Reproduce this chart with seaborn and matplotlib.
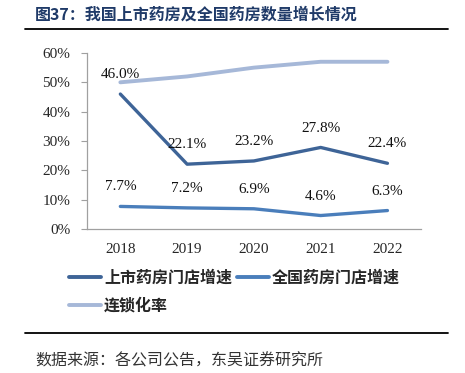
import pandas as pd
import matplotlib.pyplot as plt
import seaborn as sns
from matplotlib.lines import Line2D

# 数据
years = ['2018', '2019', '2020', '2021', '2022']
listed_growth = [46.0, 22.1, 23.2, 27.8, 22.4]      # 上市药房门店增速
national_growth = [7.7, 7.2, 6.9, 4.6, 6.3]         # 全国药房门店增速
chain_rate = [50.0, 52.0, 55.0, 57.0, 57.0]         # 连锁化率
series_names = ['上市药房门店增速', '全国药房门店增速', '连锁化率']
colors = ['#3E6497', '#4A7EBB', '#A6B8D8']

sns.set_style('white')
plt.rcParams['font.family'] = ['Noto Sans CJK SC', 'DejaVu Sans']
serif = 'Liberation Serif'

fig = plt.figure(figsize=(4.65, 3.73), dpi=100)
ax = fig.add_axes([0.187, 0.386, 0.718, 0.472])

x = list(range(len(years)))
for vals, name, c, lw in zip([listed_growth, national_growth, chain_rate],
                             series_names, colors, [2.4, 2.4, 2.8]):
    sns.lineplot(x=x, y=vals, ax=ax, color=c, linewidth=lw, label=name,
                 legend=False)

# 数据标签
for vals in [listed_growth, national_growth]:
    for i, v in enumerate(vals):
        ax.annotate(f'{v:.1f}%', (i, v), xytext=(0, 14), textcoords='offset points',
                    ha='center', va='center', fontsize=11, family=serif, color='#111111')

ax.set_xlim(-0.5, len(years) - 0.5)
ax.set_ylim(0, 60)
ax.set_yticks(range(0, 61, 10))
ax.set_yticklabels([f'{t}%' for t in range(0, 61, 10)], family=serif, fontsize=11)
ax.set_xticks(x)
ax.set_xticklabels(years, family=serif, fontsize=11)
ax.tick_params(axis='y', length=4, width=0.8, color='#A0A0A0', pad=8, left=True)
ax.tick_params(axis='x', length=0, pad=10)
for s in ['top', 'right']:
    ax.spines[s].set_visible(False)
for s in ['left', 'bottom']:
    ax.spines[s].set_color('#A0A0A0')
    ax.spines[s].set_linewidth(0.9)

# 图例（按列填充，所以调整顺序）
handles = [Line2D([], [], color=c, linewidth=2.8) for c in colors]
order = [0, 2, 1]
fig.legend([handles[i] for i in order], [series_names[i] for i in order],
           loc='upper left', bbox_to_anchor=(0.148, 0.278), ncol=2, frameon=False,
           prop={'size': 11.5, 'weight': 'bold'}, handlelength=2.0, handletextpad=0.2,
           columnspacing=0.3, labelspacing=0.75, borderaxespad=0, borderpad=0)

# 标题与来源
fig.text(0.075, 0.96, '图37：我国上市药房及全国药房数量增长情况', fontsize=11.5,
         fontweight='bold', color='#1F3A68', va='center', ha='left')
fig.add_artist(Line2D([0.054, 0.963], [0.922, 0.922], color='black', linewidth=1.3))
fig.add_artist(Line2D([0.054, 0.963], [0.107, 0.107], color='black', linewidth=1.3))
fig.text(0.075, 0.032, '数据来源：各公司公告，东吴证券研究所', fontsize=11.5,
         color='#333333', va='center', ha='left')

fig.savefig('out.png', dpi=100)
